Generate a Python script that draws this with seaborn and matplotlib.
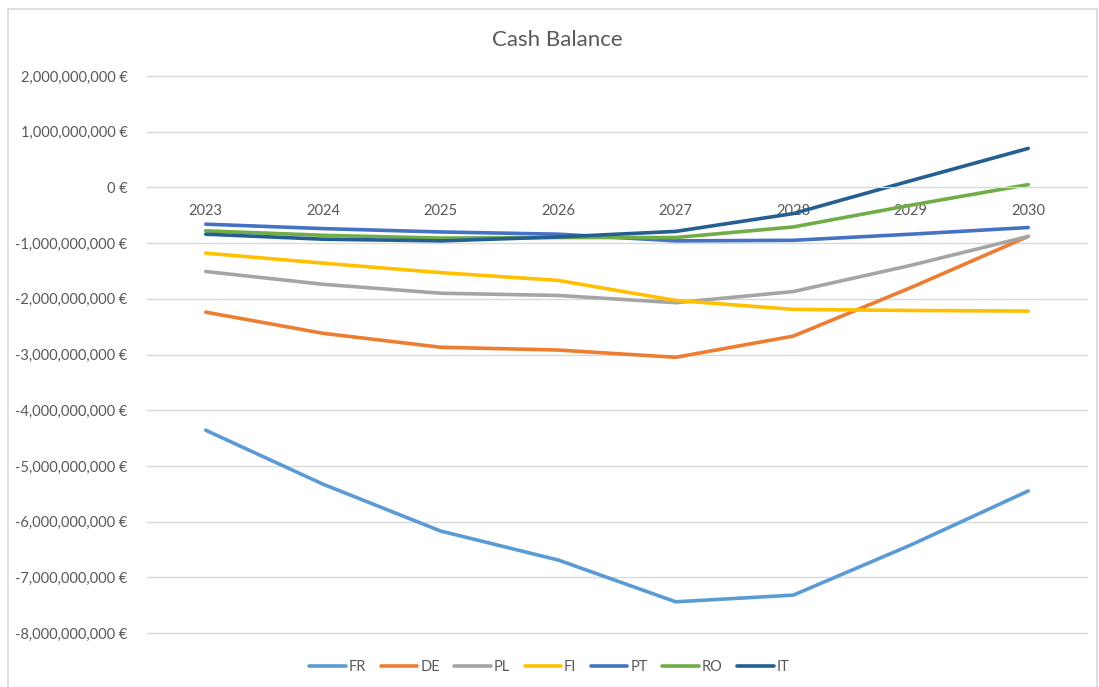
import matplotlib
matplotlib.use('Agg')
import matplotlib.pyplot as plt
import matplotlib.ticker as mticker
from matplotlib.patches import Rectangle
import pandas as pd
import seaborn as sns

years = [2023, 2024, 2025, 2026, 2027, 2028, 2029, 2030]
countries = ['FR', 'DE', 'PL', 'FI', 'PT', 'RO', 'IT']

fr = [-4.36e9, -5.33e9, -6.17e9, -6.69e9, -7.44e9, -7.32e9, -6.42e9, -5.45e9]
de = [-2.24e9, -2.62e9, -2.87e9, -2.92e9, -3.05e9, -2.67e9, -1.80e9, -0.88e9]
pl = [-1.51e9, -1.74e9, -1.90e9, -1.94e9, -2.07e9, -1.87e9, -1.40e9, -0.88e9]
fi = [-1.18e9, -1.36e9, -1.53e9, -1.67e9, -2.03e9, -2.19e9, -2.21e9, -2.22e9]
pt = [-0.66e9, -0.74e9, -0.80e9, -0.84e9, -0.96e9, -0.95e9, -0.84e9, -0.72e9]
ro = [-0.78e9, -0.86e9, -0.91e9, -0.90e9, -0.90e9, -0.71e9, -0.32e9, 0.05e9]
it = [-0.84e9, -0.93e9, -0.96e9, -0.89e9, -0.79e9, -0.47e9, 0.12e9, 0.70e9]

colors = ['#5B9BD5', '#ED7D31', '#A5A5A5', '#FFC000', '#4472C4', '#70AD47', '#255E91']

series = dict(zip(countries, [fr, de, pl, fi, pt, ro, it]))
rows = []
for c, vals in series.items():
    for y, v in zip(years, vals):
        rows.append({'Year': y, 'Country': c, 'Cash': v})
df = pd.DataFrame(rows)

sns.set_style('white')
plt.rcParams['font.family'] = ['Lato', 'DejaVu Sans']
text_color = '#595959'
grid_color = '#D9D9D9'

fig = plt.figure(figsize=(10.99, 6.87), dpi=100)
ax = fig.add_axes([147 / 1099, 1 - 633 / 687, (1087 - 147) / 1099, (633 - 76) / 687])

sns.lineplot(data=df, x='Year', y='Cash', hue='Country', hue_order=countries,
             palette=colors, linewidth=2.6, ax=ax, legend=True)

ax.set_xlim(2022.5, 2030.5)
ax.set_ylim(-8e9, 2e9)
ax.yaxis.set_major_locator(mticker.MultipleLocator(1e9))
ax.yaxis.set_major_formatter(mticker.FuncFormatter(lambda v, p: f'{v:,.0f} €'))
ax.set_xticks(years)
ax.set_xticklabels([str(y) for y in years])
ax.grid(axis='y', color=grid_color, linewidth=1)
for gl in ax.get_ygridlines():
    gl.set_clip_on(False)
ax.set_axisbelow(True)

for s in ['top', 'right', 'left']:
    ax.spines[s].set_visible(False)
ax.spines['bottom'].set_position(('data', 0))
ax.spines['bottom'].set_color(grid_color)
ax.tick_params(axis='x', length=0, pad=12, labelsize=10.5, labelcolor=text_color)
ax.tick_params(axis='y', length=0, pad=14, labelsize=10.5, labelcolor=text_color)
ax.set_xlabel('')
ax.set_ylabel('')

fig.text(557 / 1099, 1 - 40 / 687, 'Cash Balance', ha='center', va='center',
         fontsize=16, color=text_color)

handles, labels = ax.get_legend_handles_labels()
ax.legend(handles, labels, loc='center', bbox_to_anchor=(0.5, (687 - 667) / 687),
          bbox_transform=fig.transFigure, ncol=7, frameon=False, fontsize=10.5,
          handlelength=2.5, handletextpad=0.2, columnspacing=1.0,
          labelcolor=text_color)

fig.patches.append(Rectangle((8 / 1099, -0.01), 1 - 10 / 1099, 1 - 9 / 687 + 0.01,
                             transform=fig.transFigure, fill=False,
                             edgecolor=grid_color, linewidth=1.2))

fig.savefig('out.png', dpi=100)
